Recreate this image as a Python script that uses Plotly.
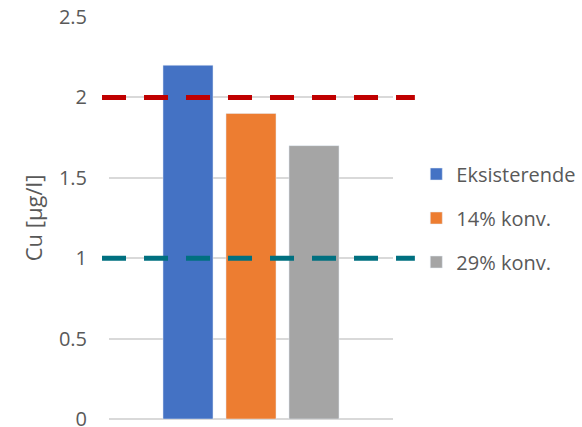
import plotly.graph_objects as go

category = [""]
series_names = ["Eksisterende", "14% konv.", "29% konv."]
series_values = [[2.2], [1.9], [1.7]]
series_colors = ["#4472C4", "#ED7D31", "#A5A5A5"]
limit_values = [2.0, 1.0]
limit_colors = ["#C00000", "#007080"]
y_ticks = [0, 0.5, 1, 1.5, 2, 2.5]
y_ticklabels = ["0", "0.5", "1", "1.5", "2", "2.5"]

fig = go.Figure()
for name, vals, col in zip(series_names, series_values, series_colors):
    fig.add_trace(go.Bar(x=category, y=vals, name=name, marker_color=col,
                         legendgroup=name))

for v, c in zip(limit_values, limit_colors):
    fig.add_shape(type="line", xref="paper", yref="y", x0=-0.0246, x1=1.077,
                  y0=v, y1=v, line=dict(color=c, width=5, dash="24px,18px"),
                  layer="above")

fig.update_layout(
    width=582, height=427,
    margin=dict(l=109, r=189, t=17, b=8, autoexpand=False),
    paper_bgcolor="white", plot_bgcolor="white",
    barmode="group", bargap=0.3345, bargroupgap=0.206,
    font=dict(family="Open Sans", size=20, color="#595959"),
    showlegend=True,
    legend=dict(x=1.082, xanchor="left", y=0.5, yanchor="middle",
                font=dict(size=20, color="#595959"), tracegroupgap=15,
                traceorder="grouped"),
    yaxis=dict(range=[0, 2.5], tickvals=y_ticks, ticktext=y_ticklabels,
               showgrid=True, gridcolor="#D9D9D9", gridwidth=1.5,
               zeroline=True, zerolinecolor="#D9D9D9", zerolinewidth=1.5,
               showline=False, ticks="", automargin=False,
               ticklabelstandoff=21, ticklabeloverflow="allow",
               tickfont=dict(size=20, color="#595959"),
               title=dict(text="Cu [µg/l]", standoff=10,
                          font=dict(size=22, color="#595959"))),
    xaxis=dict(showticklabels=False, showgrid=False, zeroline=False,
               showline=False, ticks="", automargin=False),
)

fig.write_html("out.html")
